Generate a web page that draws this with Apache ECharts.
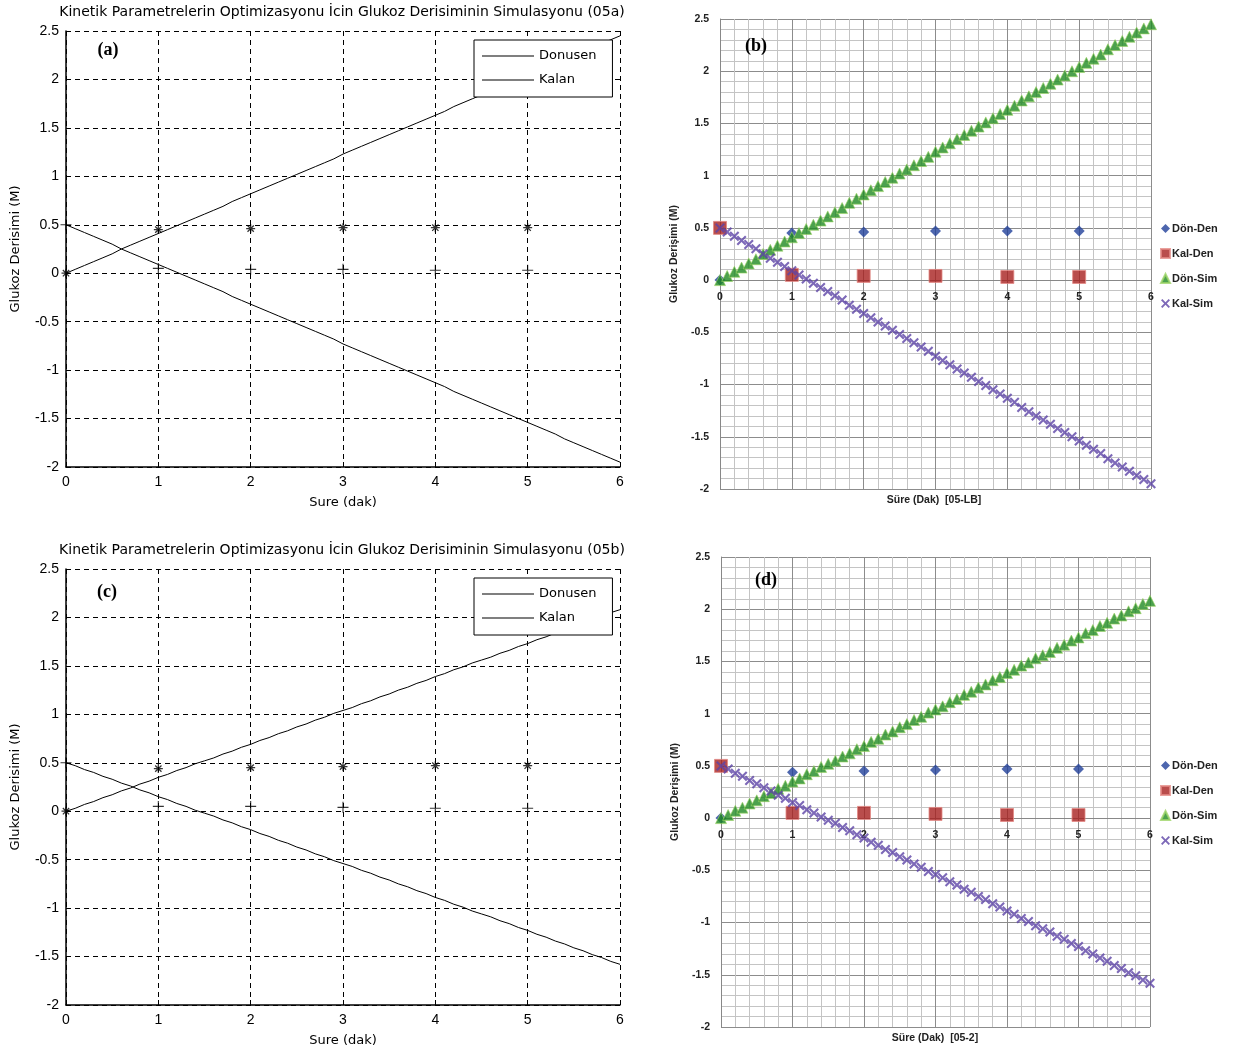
<!DOCTYPE html>
<html>
<head>
<meta charset="utf-8">
<script src="https://cdn.jsdelivr.net/npm/echarts@6.0.0/dist/echarts.min.js"></script>
<style>
  html, body { margin: 0; padding: 0; background: #fff; }
  #chart { width: 1233px; height: 1052px; }
</style>
</head>
<body>
<div id="chart"></div>
<script>
// ── data ────────────────────────────────────────────
const timeExp = [0, 1, 2, 3, 4, 5];

// experiment 05-LB (panels a, b)
const donDenLB = [0, 0.45, 0.46, 0.47, 0.47, 0.47];
const kalDenLB = [0.5, 0.05, 0.04, 0.04, 0.03, 0.03];
// experiment 05-2 (panels c, d)
const donDen2 = [0, 0.44, 0.45, 0.46, 0.47, 0.47];
const kalDen2 = [0.5, 0.05, 0.05, 0.04, 0.03, 0.03];

const timeSim = [0, 0.1, 0.2, 0.3, 0.4, 0.5, 0.6, 0.7, 0.8, 0.9, 1.0,
  1.1, 1.2, 1.3, 1.4, 1.5, 1.6, 1.7, 1.8, 1.9, 2.0,
  2.1, 2.2, 2.3, 2.4, 2.5, 2.6, 2.7, 2.8, 2.9, 3.0,
  3.1, 3.2, 3.3, 3.4, 3.5, 3.6, 3.7, 3.8, 3.9, 4.0,
  4.1, 4.2, 4.3, 4.4, 4.5, 4.6, 4.7, 4.8, 4.9, 5.0,
  5.1, 5.2, 5.3, 5.4, 5.5, 5.6, 5.7, 5.8, 5.9, 6.0];

const donSimLB = [0, 0.04, 0.08, 0.12, 0.16, 0.20, 0.25, 0.29, 0.33, 0.37, 0.41,
  0.45, 0.49, 0.53, 0.57, 0.61, 0.65, 0.69, 0.74, 0.78, 0.82,
  0.86, 0.90, 0.94, 0.98, 1.02, 1.06, 1.10, 1.14, 1.18, 1.23,
  1.27, 1.31, 1.35, 1.39, 1.43, 1.47, 1.51, 1.55, 1.59, 1.63,
  1.67, 1.72, 1.76, 1.80, 1.84, 1.88, 1.92, 1.96, 2.00, 2.04,
  2.08, 2.12, 2.16, 2.21, 2.25, 2.29, 2.33, 2.37, 2.41, 2.45];
const kalSimLB = [0.50, 0.46, 0.42, 0.38, 0.34, 0.30, 0.25, 0.21, 0.17, 0.13, 0.09,
  0.05, 0.01, -0.03, -0.07, -0.11, -0.15, -0.19, -0.24, -0.28, -0.32,
  -0.36, -0.40, -0.44, -0.48, -0.52, -0.56, -0.60, -0.64, -0.68, -0.73,
  -0.77, -0.81, -0.85, -0.89, -0.93, -0.97, -1.01, -1.05, -1.09, -1.13,
  -1.17, -1.22, -1.26, -1.30, -1.34, -1.38, -1.42, -1.46, -1.50, -1.54,
  -1.58, -1.62, -1.66, -1.71, -1.75, -1.79, -1.83, -1.87, -1.91, -1.95];

const donSim2 = [0, 0.03, 0.07, 0.10, 0.14, 0.17, 0.21, 0.24, 0.28, 0.31, 0.35,
  0.38, 0.42, 0.45, 0.49, 0.52, 0.55, 0.59, 0.62, 0.66, 0.69,
  0.73, 0.76, 0.80, 0.83, 0.87, 0.90, 0.94, 0.97, 1.01, 1.04,
  1.07, 1.11, 1.14, 1.18, 1.21, 1.25, 1.28, 1.32, 1.35, 1.39,
  1.42, 1.46, 1.49, 1.53, 1.56, 1.59, 1.63, 1.66, 1.70, 1.73,
  1.77, 1.80, 1.84, 1.87, 1.91, 1.94, 1.98, 2.01, 2.05, 2.08];
const kalSim2 = [0.50, 0.47, 0.43, 0.40, 0.36, 0.33, 0.29, 0.26, 0.22, 0.19, 0.15,
  0.12, 0.08, 0.05, 0.01, -0.02, -0.05, -0.09, -0.12, -0.16, -0.19,
  -0.23, -0.26, -0.30, -0.33, -0.37, -0.40, -0.44, -0.47, -0.51, -0.54,
  -0.57, -0.61, -0.64, -0.68, -0.71, -0.75, -0.78, -0.82, -0.85, -0.89,
  -0.92, -0.96, -0.99, -1.03, -1.06, -1.09, -1.13, -1.16, -1.20, -1.23,
  -1.27, -1.30, -1.34, -1.37, -1.41, -1.44, -1.48, -1.51, -1.55, -1.58];

const titleA = 'Kinetik Parametrelerin Optimizasyonu İcin Glukoz Derisiminin Simulasyonu (05a)';
const titleC = 'Kinetik Parametrelerin Optimizasyonu İcin Glukoz Derisiminin Simulasyonu (05b)';

// ── helpers ─────────────────────────────────────────
const pairs = (xs, ys) => xs.map((x, i) => [x, ys[i]]);

const STAR = 'path://M4.3,0 H5.7 V10 H4.3 Z M0,4.3 H10 V5.7 H0 Z M1,2 L2,1 L9,8 L8,9 Z M8,1 L9,2 L2,9 L1,8 Z';
const PLUS = 'path://M4.5,0 H5.5 V10 H4.5 Z M0,4.5 H10 V5.5 H0 Z';
const CROSS = 'path://M0,1.5 L1.5,0 L5,3.5 L8.5,0 L10,1.5 L6.5,5 L10,8.5 L8.5,10 L5,6.5 L1.5,10 L0,8.5 L3.5,5 Z';

const mFont = 'Liberation Sans';
const mNameFont = 'DejaVu Sans';
const xFont = 'Liberation Sans';

const Y_MIN = -2, Y_MAX = 2.5;

function matlabAxes(gi) {
  const x = {
    gridIndex: gi, type: 'value', min: 0, max: 6, interval: 1,
    name: 'Sure (dak)', nameLocation: 'middle', nameGap: 29,
    nameTextStyle: { fontFamily: mNameFont, fontSize: 13, color: '#000' },
    axisLine: { onZero: false, lineStyle: { color: '#000', width: 1.5 } },
    axisTick: { inside: true, length: 5, lineStyle: { color: '#000' } },
    axisLabel: { fontFamily: mFont, fontSize: 14, color: '#000', margin: 8 },
    splitLine: { show: true, lineStyle: { color: '#000', type: [5, 4], width: 1 } }
  };
  const y = {
    gridIndex: gi, type: 'value', min: Y_MIN, max: Y_MAX, interval: 0.5,
    name: 'Glukoz Derisimi (M)', nameLocation: 'middle', nameGap: 44,
    nameTextStyle: { fontFamily: mNameFont, fontSize: 13, color: '#000' },
    axisLine: { onZero: false, lineStyle: { color: '#000', width: 1.5 } },
    axisTick: { inside: true, length: 5, lineStyle: { color: '#000' } },
    axisLabel: { fontFamily: mFont, fontSize: 14, color: '#000', margin: 7 },
    splitLine: { show: true, lineStyle: { color: '#000', type: [5, 4], width: 1 } }
  };
  return [x, y];
}

function excelAxes(gi, plotHeight) {
  // x axis sits on the y = 0 line (Excel style)
  const zeroOffset = -plotHeight * (0 - Y_MIN) / (Y_MAX - Y_MIN);
  const x = {
    gridIndex: gi, type: 'value', min: 0, max: 6, interval: 1,
    position: 'bottom', offset: zeroOffset,
    axisLine: { onZero: false, lineStyle: { color: '#888', width: 1 } },
    axisTick: { show: false },
    axisLabel: { fontFamily: xFont, fontWeight: 'bold', fontSize: 10.5, color: '#222', margin: 11 },
    minorTick: { show: false, splitNumber: 5 },
    splitLine: { show: true, lineStyle: { color: '#8c8c8c', width: 1 } },
    minorSplitLine: { show: true, lineStyle: { color: '#c4c4c4', width: 1 } }
  };
  const y = {
    gridIndex: gi, type: 'value', min: Y_MIN, max: Y_MAX, interval: 0.5,
    name: 'Glukoz Derişimi (M)', nameLocation: 'middle', nameGap: 40,
    nameTextStyle: { fontFamily: xFont, fontWeight: 'bold', fontSize: 10.5, color: '#222' },
    axisLine: { onZero: false, lineStyle: { color: '#888', width: 1 } },
    axisTick: { show: false },
    axisLabel: { fontFamily: xFont, fontWeight: 'bold', fontSize: 10.5, color: '#222', margin: 11 },
    minorTick: { show: false, splitNumber: 5 },
    splitLine: { show: true, lineStyle: { color: '#8c8c8c', width: 1 } },
    minorSplitLine: { show: true, lineStyle: { color: '#c4c4c4', width: 1 } }
  };
  return [x, y];
}

function matlabSeries(gi, don, kal, donDen, kalDen) {
  return [
    { name: 'Donusen', type: 'line', xAxisIndex: gi, yAxisIndex: gi, symbol: 'none',
      data: pairs(timeSim, don), lineStyle: { color: '#000', width: 1 }, itemStyle: { color: '#000' } },
    { name: 'Kalan', type: 'line', xAxisIndex: gi, yAxisIndex: gi, symbol: 'none',
      data: pairs(timeSim, kal), lineStyle: { color: '#000', width: 1 }, itemStyle: { color: '#000' } },
    { name: 'don-den', type: 'scatter', xAxisIndex: gi, yAxisIndex: gi, symbol: STAR, symbolSize: 9,
      data: pairs(timeExp, donDen), itemStyle: { color: '#000' } },
    { name: 'kal-den', type: 'scatter', xAxisIndex: gi, yAxisIndex: gi, symbol: PLUS, symbolSize: 11,
      data: pairs(timeExp, kalDen), itemStyle: { color: '#000' } }
  ];
}

function excelSeries(gi, don, kal, donDen, kalDen) {
  return [
    { name: 'Dön-Den', type: 'scatter', xAxisIndex: gi, yAxisIndex: gi, symbol: 'diamond', symbolSize: 11,
      data: pairs(timeExp, donDen), itemStyle: { color: '#21409a' } },
    { name: 'Kal-Den', type: 'scatter', xAxisIndex: gi, yAxisIndex: gi, symbol: 'rect', symbolSize: 13,
      data: pairs(timeExp, kalDen), itemStyle: { color: '#a8201f', borderColor: '#e48a84', borderWidth: 1 } },
    { name: 'Dön-Sim', type: 'scatter', xAxisIndex: gi, yAxisIndex: gi, symbol: 'triangle', symbolSize: 11,
      data: pairs(timeSim, don), itemStyle: { color: '#1f8a22', borderColor: '#9dd466', borderWidth: 0.8 } },
    { name: 'Kal-Sim', type: 'scatter', xAxisIndex: gi, yAxisIndex: gi, symbol: CROSS, symbolSize: 10,
      data: pairs(timeSim, kal), itemStyle: { color: '#5d43a6' } }
  ];
}

function matlabLegend(top) {
  return {
    left: 474, top: top, orient: 'vertical', data: ['Donusen', 'Kalan'],
    icon: 'rect', itemStyle: { color: '#000' },
    borderColor: '#000', borderWidth: 1, borderRadius: 0, backgroundColor: '#fff',
    padding: [9, 16, 10, 8], itemWidth: 52, itemHeight: 1, itemGap: 10,
    selectedMode: false,
    textStyle: { fontFamily: mNameFont, fontSize: 13, color: '#000', lineHeight: 14 }
  };
}

function excelLegend(top) {
  return {
    left: 1155, top: top, orient: 'vertical', data: ['Dön-Den', 'Kal-Den', 'Dön-Sim', 'Kal-Sim'],
    itemWidth: 9, itemHeight: 9, itemGap: 14, selectedMode: false,
    textStyle: { fontFamily: xFont, fontWeight: 'bold', fontSize: 11, color: '#222', padding: [0, 0, 0, -3] }
  };
}

function txt(x, y, text, font, extra) {
  return { type: 'text', x: x, y: y, z: 100,
    style: Object.assign({ text: text, font: font, fill: '#000', align: 'center', verticalAlign: 'middle' }, extra || {}) };
}

const [xa, ya] = matlabAxes(0);
const [xb, yb] = excelAxes(1, 470);
const [xc, yc] = matlabAxes(2);
const [xd, yd] = excelAxes(3, 470);

const chart = echarts.init(document.getElementById('chart'), null, { renderer: 'canvas' });
chart.setOption({
  backgroundColor: '#fff',
  animation: false,
  grid: [
    { left: 66, top: 31, width: 554, height: 436, outerBoundsMode: 'none' },
    { left: 720, top: 19, width: 431, height: 470, outerBoundsMode: 'none', show: true, backgroundColor: '#fff', borderWidth: 0 },
    { left: 66, top: 569, width: 554, height: 436, outerBoundsMode: 'none' },
    { left: 721, top: 557, width: 429, height: 470, outerBoundsMode: 'none', show: true, backgroundColor: '#fff', borderWidth: 0 }
  ],
  xAxis: [xa, xb, xc, xd],
  yAxis: [ya, yb, yc, yd],
  legend: [matlabLegend(40), excelLegend(218), matlabLegend(578), excelLegend(755)],
  series: [].concat(
    matlabSeries(0, donSimLB, kalSimLB, donDenLB, kalDenLB),
    excelSeries(1, donSimLB, kalSimLB, donDenLB, kalDenLB),
    matlabSeries(2, donSim2, kalSim2, donDen2, kalDen2),
    excelSeries(3, donSim2, kalSim2, donDen2, kalDen2)
  ),
  graphic: [
    txt(342, 12, titleA, '14px "DejaVu Sans"'),
    txt(342, 550, titleC, '14px "DejaVu Sans"'),
    txt(108, 50, '(a)', 'bold 18px "Liberation Serif"'),
    txt(756, 46, '(b)', 'bold 18px "Liberation Serif"'),
    txt(107, 592, '(c)', 'bold 18px "Liberation Serif"'),
    txt(766, 580, '(d)', 'bold 18px "Liberation Serif"'),
    txt(934, 500, 'Süre (Dak)  [05-LB]', 'bold 10.5px "Liberation Sans"', { fill: '#222' }),
    txt(935, 1038, 'Süre (Dak)  [05-2]', 'bold 10.5px "Liberation Sans"', { fill: '#222' })
  ]
});
</script>
</body>
</html>
